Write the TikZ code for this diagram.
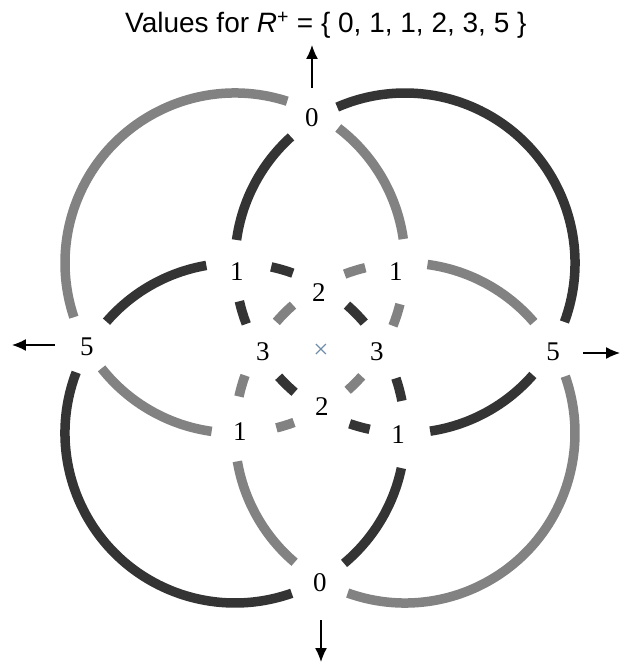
\documentclass[tikz,border=0pt]{standalone}
\usepackage{fontspec}
\setmainfont{Liberation Serif}
\newfontfamily\titlefont{Liberation Sans}
\usetikzlibrary{arrows.meta}
\definecolor{dk}{RGB}{52,52,52}
\definecolor{lt}{RGB}{130,130,130}
\definecolor{xc}{RGB}{110,140,170}
\begin{document}
\begin{tikzpicture}[x=1pt,y=1pt,
  ring/.style={line width=9.5pt, line cap=butt},
  dkring/.style={ring, draw=dk},
  ltring/.style={ring, draw=lt},
  val/.style={inner sep=0pt, font=\fontsize{27}{32}\selectfont},
  arr/.style={line width=1.3pt, -{Latex[length=14pt,width=12pt]}}]
\useasboundingbox (-320,-316) rectangle (301,348);
% circle centres
\coordinate (cTR) at (85,85);
\coordinate (cTL) at (-85,85);
\coordinate (cBL) at (-85,-85);
\coordinate (cBR) at (85,-85);
% dark circle, top right
\foreach \a/\b in {-20.3/113.5, 132.1/172.2, 193/201, 222/229.5, 251/258, 278.5/318.8}
  \draw[dkring] (cTR) ++(\a:170) arc[start angle=\a, end angle=\b, radius=170];
% light circle, top left
\foreach \a/\b in {72.1/198.6, 8.1/52.6, -21.7/-14, -48.5/-41.8, 284.1/290.3, 218.3/262.1}
  \draw[ltring] (cTL) ++(\a:170) arc[start angle=\a, end angle=\b, radius=170];
% dark circle, bottom left
\foreach \a/\b in {159.1/289.5, -50.1/-11.9, 10.9/18.8, 40.5/48.8, 70.1/77.7, 99.7/139.1}
  \draw[dkring] (cBL) ++(\a:170) arc[start angle=\a, end angle=\b, radius=170];
% light circle, bottom right
\foreach \a/\b in {250.3/379.5, 40.7/82.4, 103.5/110.8, 131.2/139.2, 160.2/167.6, 189.6/229.5}
  \draw[ltring] (cBR) ++(\a:170) arc[start angle=\a, end angle=\b, radius=170];
% labels
\node[val] (z0t) at (-8,230) {0};
\node[val] (z0b) at (0,-235) {0};
\node[val] (f5l) at (-233,1) {5};
\node[val] (f5r) at (233,-4) {5};
\node[val] (o1ul) at (-83,76) {1};
\node[val] (o1ur) at (76,76) {1};
\node[val] (o1ll) at (-80,-84) {1};
\node[val] (o1lr) at (78,-87) {1};
\node[val] (t2u) at (-1,55) {2};
\node[val] (t2l) at (2,-59) {2};
\node[val] (h3l) at (-57,-4) {3};
\node[val] (h3r) at (57,-4) {3};
\node[val, text=xc] (ctr) at (1,-3) {×};
% title
\node[anchor=base west, inner sep=0pt, font=\titlefont\fontsize{28}{34}\selectfont] (title) at (-195,315)
  {Values for \textit{R}\textsuperscript{+} = \{ 0, 1, 1, 2, 3, 5 \}};
% arrows
\coordinate (aT0) at (-8,260);  \coordinate (aT1) at (-8,303);
\coordinate (aL0) at (-265,3);  \coordinate (aL1) at (-308,3);
\coordinate (aR0) at (263,-5);  \coordinate (aR1) at (300,-5);
\coordinate (aB0) at (1,-272);  \coordinate (aB1) at (1,-314);
\draw[arr] (aT0) -- (aT1);
\draw[arr] (aL0) -- (aL1);
\draw[arr] (aR0) -- (aR1);
\draw[arr] (aB0) -- (aB1);
\end{tikzpicture}
\end{document}
